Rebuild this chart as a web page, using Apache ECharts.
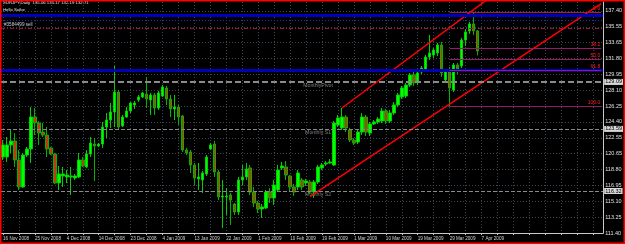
<!DOCTYPE html>
<html>
<head>
<meta charset="utf-8">
<script src="https://cdn.jsdelivr.net/npm/echarts@6/dist/echarts.min.js"></script>
<style>
  html, body { margin: 0; padding: 0; background: #000; }
  #chart { width: 625px; height: 244px; }
</style>
</head>
<body>
<div id="chart"></div>
<script>
// time axis labels, one every 8 daily bars
const dateLabels = ['16 Nov 2008', '25 Nov 2008', '4 Dec 2008', '14 Dec 2008', '23 Dec 2008',
  '4 Jan 2009', '13 Jan 2009', '22 Jan 2009', '1 Feb 2009', '10 Feb 2009', '19 Feb 2009',
  '1 Mar 2009', '10 Mar 2009', '19 Mar 2009', '29 Mar 2009', '7 Apr 2009']
const priceLabels = ['111.40', '113.25', '115.10', '116.95', '118.80', '120.65', '122.55',
  '124.40', '126.25', '128.10', '129.95', '131.80', '133.65', '135.55', '137.40']

// EURJPY daily bars: [open, close, low, high]
const candles = [
  [120.30, 121.71, 119.95, 122.29], [120.30, 121.71, 119.72, 122.64], [121.71, 122.17, 120.77, 123.58],
  [122.17, 119.95, 119.13, 123.11], [119.95, 116.79, 116.44, 121.12], [116.79, 120.53, 116.67, 120.77],
  [120.53, 121.24, 120.30, 121.47], [121.24, 124.98, 119.60, 126.15], [124.98, 124.28, 122.87, 126.04],
  [124.28, 123.11, 121.71, 124.51], [123.22, 122.87, 122.64, 124.28], [122.87, 121.24, 120.30, 123.81],
  [121.36, 120.65, 120.53, 121.47], [120.65, 117.26, 117.14, 120.77], [117.26, 118.31, 116.44, 119.25],
  [118.08, 118.31, 116.79, 119.13], [117.96, 118.19, 117.26, 118.78], [117.96, 118.08, 115.85, 119.13],
  [117.84, 118.08, 117.61, 118.31], [117.96, 119.95, 117.84, 120.77], [119.95, 119.25, 119.13, 120.30],
  [119.13, 120.65, 119.02, 121.12], [120.65, 121.94, 120.30, 122.64], [121.82, 121.59, 117.49, 122.52],
  [121.59, 121.82, 121.47, 121.94], [121.82, 123.81, 121.36, 124.40], [123.81, 124.63, 122.52, 125.45],
  [124.63, 125.57, 123.70, 126.62], [125.57, 127.91, 123.81, 130.96], [127.91, 123.81, 123.46, 128.15],
  [123.93, 124.98, 123.81, 125.22], [124.98, 125.69, 124.87, 126.15], [125.69, 126.62, 125.45, 126.74],
  [126.39, 126.62, 125.92, 126.86], [126.98, 127.33, 126.74, 127.56], [127.33, 127.80, 127.21, 127.91],
  [127.68, 127.09, 126.04, 129.67], [126.98, 127.56, 125.22, 127.80], [127.56, 126.04, 125.22, 127.80],
  [126.04, 127.80, 125.80, 128.03], [127.44, 128.50, 127.33, 128.73], [128.38, 127.09, 126.39, 128.62],
  [127.09, 125.92, 124.98, 127.56], [125.92, 126.15, 124.63, 127.56], [126.15, 124.98, 124.05, 126.39],
  [125.10, 121.12, 120.89, 125.22], [121.12, 120.77, 120.53, 121.36], [120.89, 119.36, 118.43, 121.12],
  [119.36, 117.84, 117.02, 119.60], [117.72, 117.96, 116.44, 119.60], [117.61, 118.43, 116.09, 118.66],
  [118.31, 120.30, 118.08, 120.53], [121.24, 121.71, 121.12, 121.94], [121.82, 118.54, 117.96, 122.17],
  [118.54, 115.62, 115.26, 118.78], [115.62, 115.73, 111.98, 117.61], [115.62, 115.73, 113.51, 116.67],
  [115.85, 115.26, 112.33, 116.09], [114.80, 113.86, 113.51, 114.91], [113.86, 117.61, 113.51, 117.96],
  [117.61, 117.96, 117.02, 119.36], [117.96, 118.89, 117.61, 119.60], [119.02, 116.20, 115.85, 119.36],
  [116.20, 114.91, 114.45, 116.79], [114.91, 114.21, 113.74, 115.15], [114.21, 114.45, 113.16, 114.80],
  [114.33, 116.20, 114.21, 116.44], [116.20, 115.50, 114.91, 116.67], [115.50, 117.02, 114.68, 117.61],
  [116.44, 118.78, 116.20, 119.36], [119.02, 119.25, 118.78, 119.72], [119.13, 118.19, 117.61, 119.83],
  [118.08, 116.79, 116.20, 118.19], [116.79, 116.20, 115.73, 117.14], [116.79, 118.43, 116.44, 118.78],
  [117.61, 116.79, 116.44, 117.84], [117.26, 117.49, 116.91, 117.72], [117.37, 116.20, 115.97, 117.61],
  [116.20, 117.37, 115.50, 117.61], [117.37, 119.13, 117.14, 119.36], [119.02, 119.36, 118.78, 119.60],
  [119.48, 119.60, 119.25, 119.83], [119.60, 119.72, 119.48, 120.07], [119.36, 124.28, 119.25, 124.51],
  [124.05, 124.87, 123.81, 125.22], [123.70, 124.98, 123.46, 126.04], [124.98, 123.70, 123.22, 125.22],
  [123.46, 122.29, 122.05, 123.70], [122.29, 121.94, 121.71, 122.52], [122.05, 123.22, 121.82, 123.46],
  [123.22, 124.98, 122.87, 125.45], [124.98, 123.22, 122.76, 125.22], [123.11, 124.17, 122.76, 124.40],
  [124.17, 124.40, 124.05, 124.63], [124.40, 124.75, 124.17, 124.98], [124.51, 125.69, 124.28, 126.04],
  [125.69, 124.51, 124.17, 125.92], [124.51, 125.45, 124.28, 125.80], [125.45, 126.39, 125.22, 126.74],
  [126.39, 127.56, 126.15, 127.80], [127.33, 128.38, 127.09, 128.62], [127.44, 128.73, 127.21, 128.97],
  [128.73, 129.90, 128.50, 130.14], [129.90, 128.97, 128.62, 130.49], [129.09, 130.14, 128.73, 130.37],
  [130.26, 130.72, 130.02, 130.96], [130.49, 132.01, 130.26, 132.25], [132.01, 132.48, 131.66, 134.59],
  [132.25, 132.83, 131.90, 133.07], [132.48, 133.42, 132.13, 133.65], [133.42, 130.14, 129.67, 133.77],
  [129.32, 130.26, 129.09, 130.49], [130.26, 128.38, 126.20, 130.84], [128.15, 131.08, 127.91, 131.31],
  [131.08, 130.49, 130.02, 131.31], [130.96, 134.00, 130.72, 134.24], [134.00, 134.94, 133.30, 135.29],
  [135.06, 135.88, 134.71, 136.11], [135.88, 135.06, 134.59, 137.28], [135.06, 132.71, 132.19, 135.17]
]

const slotCount = 151 // bars plus the empty chart shift on the right
const priceMin = 111.40
const priceMax = 138.45
const priceStep = 26 / 14

const bluePrices = [136.93, 130.41]
const blueDottedPrice = 136.35
const sellPrice = 135.41
const bidPrice = 132.71
const pivotNames = ['MonthlyPivot', 'Monthly S1', 'Monthly S2']
const pivotPrices = [129.09, 123.59, 116.32]
const pivotTextBar = 79
const fibNames = ['0.0', '38.2', '50.0', '61.8', '100.0']
const fibPrices = [137.28, 133.05, 131.74, 130.43, 126.20]
const fibStartBar = 112
const upperTrend = [[85, 126.04], [125, 139.98]]
const lowerTrend = [[77, 115.65], [150, 138.25]]

const font = 'Liberation Sans, Arial, sans-serif'
const categories = Array.from({ length: slotCount }, (_, i) =>
  i % 8 === 0 && dateLabels[i / 8] ? dateLabels[i / 8] : '')

const boxLabel = {
  show: true,
  position: 'end',
  distance: 1,
  color: '#000',
  backgroundColor: '#d8d8d8',
  fontFamily: font,
  fontSize: 5.5,
  padding: [0, 1],
  formatter: (p) => p.value.toFixed(2),
}

const chart = echarts.init(document.getElementById('chart'))

chart.setOption({
  backgroundColor: '#000',
  animation: false,
  grid: { left: 0, right: 21, top: 2, bottom: 11 },
  xAxis: {
    type: 'category',
    data: categories,
    boundaryGap: true,
    axisLine: { show: true, lineStyle: { color: '#c8c8c8', width: 1 } },
    axisTick: { show: true, interval: 3, alignWithLabel: true, length: 2, lineStyle: { color: '#c8c8c8' } },
    axisLabel: {
      interval: 7,
      align: 'left',
      margin: 3,
      color: '#d0d0d0',
      fontFamily: font,
      fontSize: 4.6,
    },
    splitLine: { show: true, interval: 3, alignWithLabel: true, lineStyle: { color: '#3a4552', type: [1, 2] } },
  },
  yAxis: {
    type: 'value',
    position: 'right',
    min: priceMin,
    max: priceMax,
    interval: priceStep,
    axisLine: { show: true, lineStyle: { color: '#c8c8c8', width: 1 } },
    axisTick: { show: false },
    axisLabel: {
      margin: 2,
      color: '#e0e0e0',
      fontFamily: font,
      fontSize: 5.5,
      showMaxLabel: false,
      formatter: (v) => {
        const k = Math.round((v - priceMin) / priceStep)
        return Math.abs(priceMin + k * priceStep - v) < 1e-6 ? (priceLabels[k] || '') : ''
      },
    },
    splitLine: { show: true, showMaxLine: false, lineStyle: { color: '#3a4552', type: [1, 2] } },
  },
  series: [
    {
      type: 'line',
      data: [],
      silent: true,
      markLine: {
        silent: true,
        symbol: 'none',
        data: [
          ...bluePrices.map((p) => ({ yAxis: p, lineStyle: { color: '#0000b8', width: 3, type: 'solid' }, label: { show: false } })),
          { yAxis: blueDottedPrice, lineStyle: { color: '#2828d0', width: 1, type: [1, 2] }, label: { show: false } },
          {
            yAxis: sellPrice,
            lineStyle: { color: '#a01040', width: 1, type: [4, 2, 1, 2] },
            label: { show: true, position: 'insideStartTop', distance: [3, 1], formatter: '#3584499 sell', color: '#c8c8c8', fontFamily: font, fontSize: 4.6 },
          },
          ...pivotPrices.map((p, i) => ({
            yAxis: p,
            lineStyle: { color: '#8a8a8a', width: i === 0 ? 2 : 1, type: i === 0 ? [6, 3] : [4, 2] },
            label: boxLabel,
          })),
          { yAxis: bidPrice, lineStyle: { opacity: 0 }, label: boxLabel },
        ],
      },
    },
    {
      type: 'line',
      data: [],
      silent: true,
      markLine: {
        silent: true,
        symbol: 'none',
        data: fibPrices.map((p, i) => [
          {
            coord: [fibStartBar, p],
            lineStyle: { color: '#9a1a6a', width: 1, type: 'solid' },
            label: { show: true, position: 'insideEndTop', distance: [1, 1], formatter: fibNames[i], color: '#ff2020', fontFamily: font, fontSize: 5 },
          },
          { coord: [slotCount - 1, p] },
        ]),
      },
    },
    {
      type: 'candlestick',
      data: candles,
      barWidth: 3,
      itemStyle: {
        color: '#00ff00',
        color0: '#c03a10',
        borderColor: '#00d000',
        borderColor0: '#00b400',
        borderWidth: 1,
      },
    },
    {
      type: 'scatter',
      data: pivotPrices.map((p) => [pivotTextBar, p]),
      symbolSize: 0,
      silent: true,
      label: {
        show: true,
        position: 'bottom',
        distance: 1,
        color: '#9c9c9c',
        fontFamily: font,
        fontSize: 5.2,
        formatter: (p) => pivotNames[p.dataIndex],
      },
    },
    {
      type: 'line',
      data: upperTrend,
      symbol: 'none',
      silent: true,
      lineStyle: { color: '#ff0000', width: 1.5 },
    },
    {
      type: 'line',
      data: lowerTrend,
      symbol: 'none',
      silent: true,
      lineStyle: { color: '#ff0000', width: 1.5 },
    },
  ],
  graphic: [
    {
      type: 'text',
      left: 3,
      top: 1,
      style: { text: 'EURJPY,Daily  135.06 135.17 132.19 132.71', fill: '#e8e8e8', font: '4.3px ' + font },
    },
    {
      type: 'text',
      left: 3,
      top: 8,
      style: { text: 'Hello Sailor', fill: '#e8e8e8', font: '4.3px ' + font },
    },
    {
      type: 'rect',
      shape: { x: 0.5, y: 0.5, width: 624, height: 243 },
      style: { fill: 'none', stroke: '#ff0000', lineWidth: 2 },
      z: 100,
    },
  ],
})
</script>
</body>
</html>
